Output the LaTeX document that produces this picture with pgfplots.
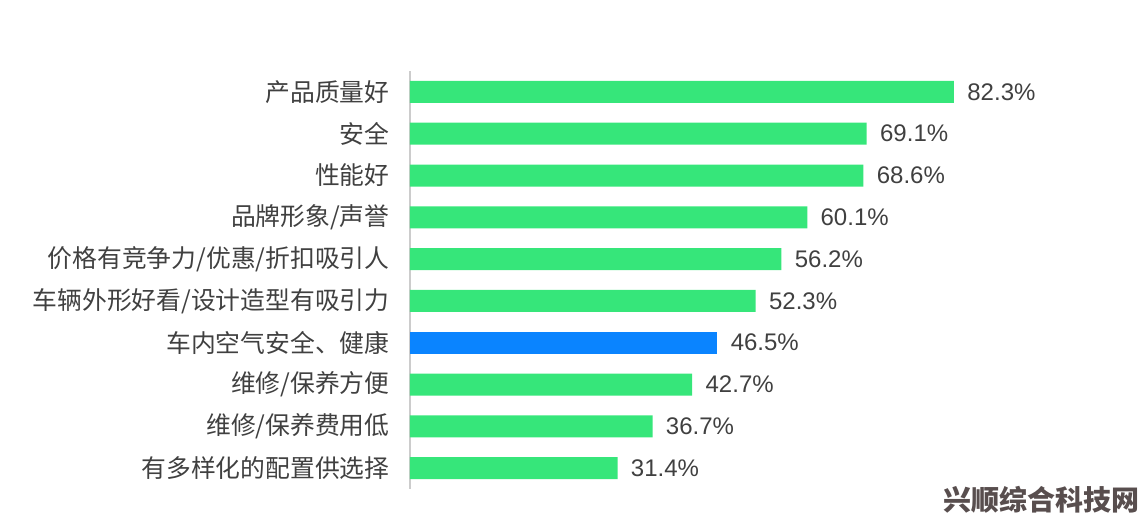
\documentclass[border=0pt]{standalone}
\usepackage{pgfplots}
\pgfplotsset{compat=1.18}
\usepackage{fontspec}
\setmainfont{Liberation Sans}
\newfontfamily\cjk{Noto Sans CJK SC}
\definecolor{bargreen}{RGB}{54,230,122}
\definecolor{barblue}{RGB}{10,132,255}
\definecolor{txt}{RGB}{64,64,64}
\definecolor{wm}{RGB}{88,78,78}
\begin{document}
\begin{tikzpicture}
\useasboundingbox (-205pt,-18pt) rectangle (369pt,244.5pt);
\begin{axis}[
  at={(0pt,0pt)}, anchor=south west,
  scale only axis,
  width=330.5pt, height=209pt,
  xmin=0, xmax=100,
  ymin=-0.5, ymax=9.5,
  y dir=reverse,
  hide x axis,
  axis y line*=left,
  y axis line style={draw=black!20, line width=1pt, -},
  ytick={0,...,9},
  yticklabels={产品质量好,安全,性能好,品牌形象/声誉,价格有竞争力/优惠/折扣吸引人,车辆外形好看/设计造型有吸引力,车内空气安全、健康,维修/保养方便,维修/保养费用低,有多样化的配置供选择},
  y tick label style={font=\cjk\fontsize{12.4pt}{14pt}\selectfont, text=txt, anchor=east, inner sep=0pt, xshift=-10pt},
  major tick length=0pt,
  ytick style={draw=none},
  xbar, bar width=11pt, bar shift=0pt,
  nodes near coords={\pgfmathprintnumber[fixed,precision=1,fixed zerofill,assume math mode=true]{\pgfplotspointmeta}\%},
  nodes near coords style={font=\fontsize{12pt}{14pt}\selectfont, text=txt, anchor=west, inner sep=0pt, xshift=6.5pt},
  point meta=x,
  clip=false,
]
\addplot[fill=bargreen, draw=none] coordinates {
(82.3,0) (69.1,1) (68.6,2) (60.1,3) (56.2,4) (52.3,5) (42.7,7) (36.7,8) (31.4,9)};
\addplot[fill=barblue, draw=none] coordinates {(46.5,6)};
\end{axis}
\node[font=\cjk\bfseries\fontsize{14pt}{16pt}\selectfont, text=wm, inner sep=0pt] at (316pt,-5.5pt) {兴顺综合科技网};
\end{tikzpicture}
\end{document}
